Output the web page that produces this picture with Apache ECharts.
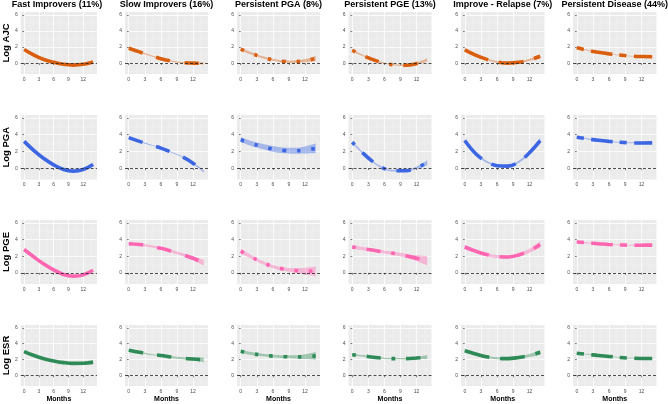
<!DOCTYPE html>
<html><head><meta charset="utf-8">
<script src="https://cdn.jsdelivr.net/npm/echarts@6/dist/echarts.min.js"></script>
<style>html,body{margin:0;padding:0;background:#fff}#c{width:668px;height:404px}</style>
</head><body><div id="c"></div>
<script>
// ---- data ----
const months = [0, 2, 4, 6, 8, 10, 12, 14];
const groups = ['Fast Improvers (11%)', 'Slow Improvers (16%)', 'Persistent PGA (8%)', 'Persistent PGE (13%)', 'Improve - Relapse (7%)', 'Persistent Disease (44%)'];
const measures = ['Log AJC', 'Log PGA', 'Log PGE', 'Log ESR'];
const xTicks = [0, 3, 6, 9, 12];
const yTicks = [0, 2, 4, 6];

const AJC_fit = [
  [1.7, 1.0, 0.45, 0.1, -0.15, -0.25, -0.15, 0.15],
  [1.85, 1.4, 0.95, 0.55, 0.25, 0.07, 0.0, -0.02],
  [1.75, 1.2, 0.75, 0.42, 0.22, 0.18, 0.3, 0.58],
  [1.6, 0.95, 0.4, 0.0, -0.22, -0.27, -0.05, 0.4],
  [1.65, 1.0, 0.5, 0.15, 0.0, 0.1, 0.4, 0.85],
  [1.9, 1.6, 1.35, 1.15, 1.0, 0.88, 0.82, 0.8]
];
const AJC_lo = [
  [1.6, 0.92, 0.38, 0.03, -0.22, -0.32, -0.23, 0.03],
  [1.73, 1.3, 0.87, 0.47, 0.17, -0.01, -0.1, -0.16],
  [1.57, 1.05, 0.62, 0.29, 0.09, 0.03, 0.1, 0.28],
  [1.45, 0.85, 0.31, -0.08, -0.3, -0.36, -0.17, 0.2],
  [1.5, 0.88, 0.4, 0.05, -0.1, 0.0, 0.27, 0.65],
  [1.83, 1.54, 1.3, 1.1, 0.95, 0.83, 0.76, 0.73]
];
const AJC_hi = [
  [1.8, 1.08, 0.52, 0.17, -0.08, -0.18, -0.07, 0.27],
  [1.97, 1.5, 1.03, 0.63, 0.33, 0.15, 0.1, 0.12],
  [1.93, 1.35, 0.88, 0.55, 0.35, 0.33, 0.5, 0.88],
  [1.75, 1.05, 0.49, 0.08, -0.14, -0.18, 0.07, 0.6],
  [1.8, 1.12, 0.6, 0.25, 0.1, 0.2, 0.53, 1.05],
  [1.97, 1.66, 1.4, 1.2, 1.05, 0.93, 0.88, 0.87]
];

const PGA_fit = [
  [3.2, 2.1, 1.15, 0.4, -0.15, -0.35, -0.15, 0.45],
  [3.65, 3.2, 2.8, 2.4, 1.9, 1.35, 0.6, -0.4],
  [3.4, 2.95, 2.6, 2.3, 2.12, 2.08, 2.18, 2.36],
  [3.1, 1.8, 0.7, -0.05, -0.3, -0.3, 0.05, 0.65],
  [3.3, 1.75, 0.8, 0.3, 0.25, 0.75, 1.85, 3.3],
  [3.7, 3.5, 3.33, 3.2, 3.1, 3.03, 3.0, 3.02]
];
const PGA_lo = [
  [3.08, 2.0, 1.07, 0.32, -0.23, -0.43, -0.25, 0.3],
  [3.55, 3.12, 2.73, 2.33, 1.83, 1.27, 0.5, -0.55],
  [3.1, 2.65, 2.28, 1.95, 1.77, 1.72, 1.76, 1.78],
  [2.95, 1.68, 0.6, -0.15, -0.4, -0.4, -0.1, 0.35],
  [3.05, 1.6, 0.68, 0.18, 0.13, 0.61, 1.65, 2.95],
  [3.62, 3.43, 3.27, 3.14, 3.04, 2.97, 2.93, 2.94]
];
const PGA_hi = [
  [3.32, 2.2, 1.23, 0.48, -0.07, -0.27, -0.05, 0.6],
  [3.75, 3.28, 2.87, 2.47, 1.97, 1.43, 0.7, -0.25],
  [3.7, 3.25, 2.92, 2.65, 2.47, 2.44, 2.6, 2.94],
  [3.25, 1.92, 0.8, 0.05, -0.2, -0.2, 0.2, 0.95],
  [3.55, 1.9, 0.92, 0.42, 0.37, 0.89, 2.05, 3.65],
  [3.78, 3.57, 3.39, 3.26, 3.16, 3.09, 3.07, 3.1]
];

const PGE_fit = [
  [2.8, 1.9, 1.05, 0.35, -0.2, -0.4, -0.25, 0.3],
  [3.5, 3.4, 3.2, 2.95, 2.6, 2.2, 1.75, 1.2],
  [2.6, 1.9, 1.25, 0.75, 0.45, 0.28, 0.2, 0.2],
  [3.1, 2.9, 2.7, 2.5, 2.3, 2.05, 1.75, 1.45],
  [3.1, 2.6, 2.2, 1.95, 1.9, 2.15, 2.65, 3.4],
  [3.7, 3.6, 3.5, 3.4, 3.35, 3.32, 3.32, 3.33]
];
const PGE_lo = [
  [2.68, 1.8, 0.97, 0.27, -0.28, -0.48, -0.35, 0.15],
  [3.32, 3.25, 3.06, 2.81, 2.45, 2.02, 1.5, 0.85],
  [2.32, 1.68, 1.05, 0.55, 0.23, 0.0, -0.2, -0.4],
  [2.85, 2.7, 2.52, 2.32, 2.1, 1.8, 1.4, 0.9],
  [2.82, 2.4, 2.02, 1.77, 1.72, 1.95, 2.4, 3.0],
  [3.62, 3.53, 3.44, 3.34, 3.29, 3.26, 3.25, 3.25]
];
const PGE_hi = [
  [2.92, 2.0, 1.13, 0.43, -0.12, -0.32, -0.15, 0.45],
  [3.68, 3.55, 3.34, 3.09, 2.75, 2.38, 2.0, 1.55],
  [2.88, 2.12, 1.45, 0.95, 0.67, 0.56, 0.6, 0.8],
  [3.35, 3.1, 2.88, 2.68, 2.5, 2.3, 2.1, 2.0],
  [3.38, 2.8, 2.38, 2.13, 2.08, 2.35, 2.9, 3.8],
  [3.78, 3.67, 3.56, 3.46, 3.41, 3.38, 3.39, 3.41]
];

const ESR_fit = [
  [3.0, 2.5, 2.1, 1.8, 1.6, 1.5, 1.52, 1.65],
  [3.15, 2.9, 2.65, 2.5, 2.3, 2.15, 2.05, 1.95],
  [3.05, 2.75, 2.55, 2.42, 2.35, 2.32, 2.35, 2.45],
  [2.6, 2.45, 2.28, 2.15, 2.1, 2.1, 2.18, 2.3],
  [3.1, 2.7, 2.35, 2.15, 2.1, 2.25, 2.5, 2.9],
  [2.78, 2.65, 2.5, 2.38, 2.25, 2.17, 2.13, 2.12]
];
const ESR_lo = [
  [2.85, 2.38, 2.0, 1.7, 1.5, 1.38, 1.34, 1.35],
  [3.03, 2.8, 2.57, 2.42, 2.2, 2.03, 1.87, 1.65],
  [2.83, 2.57, 2.39, 2.26, 2.18, 2.12, 2.05, 1.95],
  [2.48, 2.35, 2.2, 2.07, 2.02, 2.0, 2.04, 2.05],
  [2.9, 2.55, 2.23, 2.03, 1.98, 2.11, 2.3, 2.6],
  [2.71, 2.59, 2.45, 2.33, 2.2, 2.12, 2.07, 2.05]
];
const ESR_hi = [
  [3.15, 2.62, 2.2, 1.9, 1.7, 1.62, 1.7, 1.95],
  [3.27, 3.0, 2.73, 2.58, 2.4, 2.27, 2.23, 2.25],
  [3.27, 2.93, 2.71, 2.58, 2.52, 2.52, 2.65, 2.95],
  [2.72, 2.55, 2.36, 2.23, 2.18, 2.2, 2.32, 2.55],
  [3.3, 2.85, 2.47, 2.27, 2.22, 2.39, 2.7, 3.2],
  [2.85, 2.71, 2.55, 2.43, 2.3, 2.22, 2.19, 2.19]
];

// ---- styling / layout ----
const FITS = [AJC_fit, PGA_fit, PGE_fit, ESR_fit];
const LOS = [AJC_lo, PGA_lo, PGE_lo, ESR_lo];
const HIS = [AJC_hi, PGA_hi, PGE_hi, ESR_hi];
const colors = ['#D95F0E', '#3D66E3', '#FF66B2', '#2E8B57'];
const LW = 3.6, U = 3.6;
const dashes = ['solid', [4 * U, 4 * U], [1 * U, 3 * U], [1 * U, 3 * U, 4 * U, 3 * U], [7 * U, 3 * U], [2 * U, 2 * U, 6 * U, 2 * U]];
const lefts = [17, 125, 237, 348.5, 461, 573];
const widths = [80, 83, 83, 83, 83.5, 83.5];
const tops = [12, 115, 220, 325];
const heights = [62, 64.5, 64, 64];
const FONT = 'Liberation Sans, Arial, sans-serif';

const grid = [], xAxis = [], yAxis = [], series = [];
for (let r = 0; r < 4; r++) {
  for (let c = 0; c < 6; c++) {
    const k = r * 6 + c;
    grid.push({ left: lefts[c], top: tops[r], width: widths[c], height: heights[r], show: true, backgroundColor: '#EBEBEB', borderWidth: 0, containLabel: false });
    xAxis.push({
      gridIndex: k, type: 'value', min: -0.7, max: 14.8, splitNumber: 5, minInterval: 3, maxInterval: 3,
      axisLine: { show: false },
      axisTick: { show: true, length: 2, customValues: xTicks, lineStyle: { color: '#333', width: 0.6 } },
      axisLabel: { show: true, customValues: xTicks, fontSize: 5, color: '#4D4D4D', margin: 3, fontFamily: FONT },
      splitLine: { show: true, lineStyle: { color: '#FFFFFF', width: 0.8 } },
      minorTick: { show: false, splitNumber: 2 },
      minorSplitLine: { show: true, lineStyle: { color: '#F6F6F6', width: 0.4 } },
      name: r === 3 ? 'Months' : '', nameLocation: 'middle', nameGap: 10,
      nameTextStyle: { fontWeight: 'bold', fontSize: 7, color: '#000', fontFamily: FONT }
    });
    yAxis.push({
      gridIndex: k, type: 'value', min: -1.35, max: 6.35, splitNumber: 4, minInterval: 2, maxInterval: 2,
      axisLine: { show: false },
      axisTick: { show: true, length: 2, customValues: yTicks, lineStyle: { color: '#333', width: 0.6 } },
      axisLabel: { show: true, customValues: yTicks, fontSize: 5, color: '#4D4D4D', margin: 3, fontFamily: FONT },
      splitLine: { show: true, lineStyle: { color: '#FFFFFF', width: 0.8 } },
      minorTick: { show: false, splitNumber: 2 },
      minorSplitLine: { show: true, lineStyle: { color: '#F6F6F6', width: 0.4 } },
      name: c === 0 ? measures[r] : '', nameLocation: 'middle', nameGap: 9, nameRotate: 90,
      nameTextStyle: { fontWeight: 'bold', fontSize: 9.5, color: '#000', fontFamily: FONT }
    });
    const fit = FITS[r][c], lo = LOS[r][c], hi = HIS[r][c];
    const col = colors[r];
    // band: value first so stacking acts on the y dimension
    series.push({
      type: 'line', xAxisIndex: k, yAxisIndex: k, stack: 'band' + k, stackStrategy: 'all',
      data: months.map((m, i) => [lo[i], m]), encode: { x: 1, y: 0 }, symbol: 'none', smooth: 0.4,
      lineStyle: { opacity: 0, width: 0 }, silent: true, z: 1
    });
    series.push({
      type: 'line', xAxisIndex: k, yAxisIndex: k, stack: 'band' + k, stackStrategy: 'all',
      data: months.map((m, i) => [hi[i] - lo[i], m]), encode: { x: 1, y: 0 }, symbol: 'none', smooth: 0.4,
      lineStyle: { opacity: 0, width: 0 }, areaStyle: { color: col, opacity: 0.4 }, silent: true, z: 1
    });
    series.push({
      type: 'line', xAxisIndex: k, yAxisIndex: k,
      data: months.map((m, i) => [m, fit[i]]), symbol: 'none', smooth: 0.4, z: 3,
      lineStyle: { color: col, width: LW, type: dashes[c], cap: 'butt' },
      markLine: {
        silent: true, symbol: 'none', label: { show: false },
        lineStyle: { color: '#222', type: [3, 2], width: 0.8 },
        data: [{ yAxis: 0 }]
      }
    });
  }
}

const title = groups.map((g, c) => ({
  text: g, left: lefts[c] + widths[c] / 2, top: 0, padding: 0, textAlign: 'center',
  textStyle: { fontSize: 9, fontWeight: 'bold', color: '#000', fontFamily: FONT }
}));

const chart = echarts.init(document.getElementById('c'), null, { renderer: 'canvas' });
chart.setOption({ animation: false, backgroundColor: '#FFFFFF', title, grid, xAxis, yAxis, series });
</script>
</body></html>
